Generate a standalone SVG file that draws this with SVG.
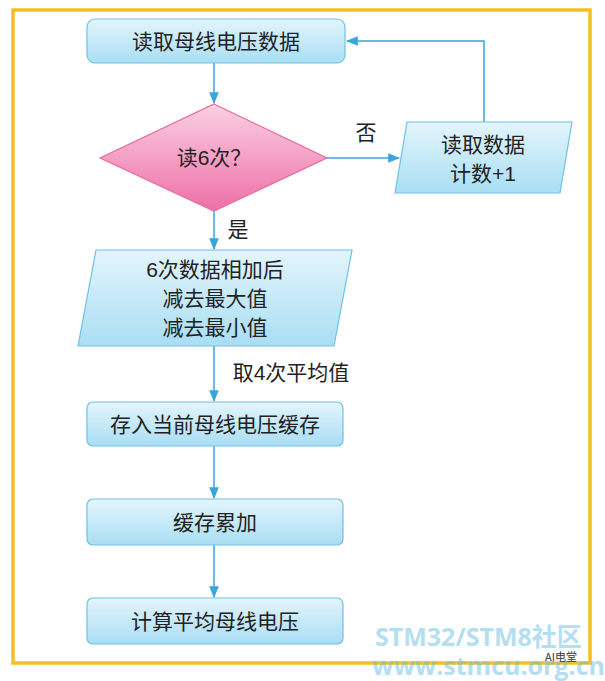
<svg xmlns="http://www.w3.org/2000/svg" width="605" height="681" viewBox="0 0 605 681">
<defs>
<linearGradient id="gb" x1="0" y1="0" x2="0" y2="1"><stop offset="0" stop-color="#e4f5fc"/><stop offset="1" stop-color="#a9def4"/></linearGradient>
<linearGradient id="gp" x1="0" y1="0" x2="0" y2="1"><stop offset="0" stop-color="#fbd0e3"/><stop offset="1" stop-color="#ee6fa7"/></linearGradient>
<marker id="ar" viewBox="0 0 10 10" refX="9" refY="5" markerWidth="8" markerHeight="8" orient="auto"><path d="M0,1 L10,5 L0,9 z" fill="#3aa5dc"/></marker>
</defs>
<style>
.n{fill:url(#gb);stroke:#6fc1e6;stroke-width:1.2}
.t{font-family:"Liberation Sans","Noto Sans CJK SC",sans-serif;font-size:21px;fill:#222;text-anchor:middle}
.c{fill:none;stroke:#3aa5dc;stroke-width:1.5;marker-end:url(#ar)}
</style>
<rect x="0" y="0" width="605" height="681" fill="#fff"/>
<rect x="13" y="10" width="577" height="653" fill="none" stroke="#f4c020" stroke-width="3.5"/>
<g id="connectors">
<path class="c" d="M214,63 V103"/>
<path class="c" d="M327,158 H399"/>
<path class="c" d="M484,122 V41 H347"/>
<path class="c" d="M214,211 V249"/>
<path class="c" d="M214,346 V401"/>
<path class="c" d="M214,446 V498"/>
<path class="c" d="M214,545 V597"/>
</g>
<g id="n1"><rect class="n" x="87" y="19" width="258" height="44" rx="8"/><text class="t" x="216" y="49">读取母线电压数据</text></g>
<g id="n2"><polygon points="214,104 327,158 214,211 100,158" fill="url(#gp)" stroke="#e56a9f" stroke-width="1.2"/><text class="t" x="214" y="165">读6次？</text></g>
<g id="n3"><polygon class="n" points="407,122 572,122 560,193 395,193"/><text class="t" x="483" y="152">读取数据</text><text class="t" x="483" y="181">计数+1</text></g>
<text class="t" x="366" y="140">否</text>
<text class="t" x="238" y="237">是</text>
<g id="n4"><polygon class="n" points="96,250 352,250 334,346 78,346"/><text class="t" x="215" y="277">6次数据相加后</text><text class="t" x="215" y="306">减去最大值</text><text class="t" x="215" y="335">减去最小值</text></g>
<text class="t" x="291" y="380">取4次平均值</text>
<g id="n5"><rect class="n" x="87" y="402" width="256" height="44" rx="6"/><text class="t" x="215" y="432">存入当前母线电压缓存</text></g>
<g id="n6"><rect class="n" x="87" y="499" width="256" height="46" rx="6"/><text class="t" x="215" y="530">缓存累加</text></g>
<g id="n7"><rect class="n" x="87" y="598" width="256" height="46" rx="6"/><text class="t" x="215" y="629">计算平均母线电压</text></g>
<g opacity="0.5" font-family="'Open Sans','Noto Sans CJK SC',sans-serif" font-weight="bold" fill="#6cc0e5">
<text x="375" y="646" font-size="25">STM32/STM8社区</text>
<text x="372" y="675" font-size="25">www.stmcu.org.cn</text>
</g>
<text x="545" y="661" font-family="'Noto Sans CJK SC',sans-serif" font-size="11" fill="#333">AI电堂</text>
</svg>
